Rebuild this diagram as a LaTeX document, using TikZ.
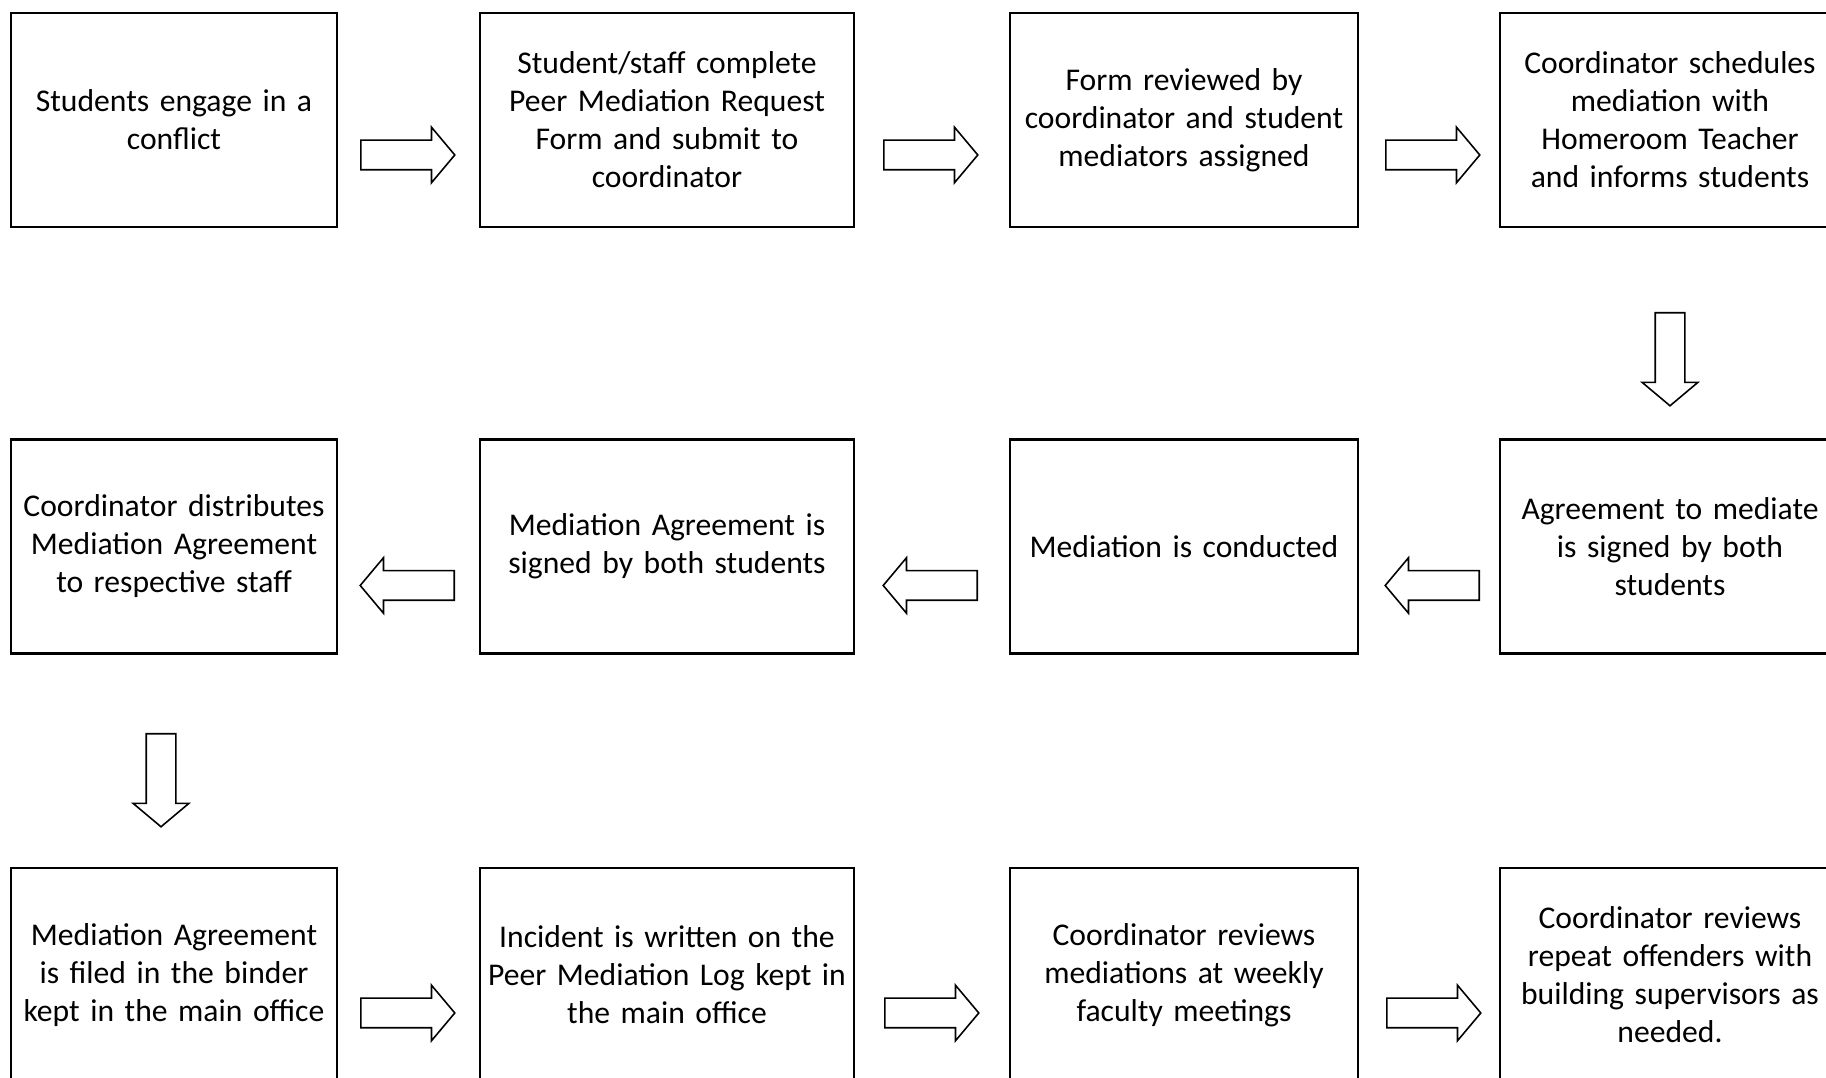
\documentclass[tikz,border=0pt]{standalone}
\usepackage{fontspec}
\setmainfont{Carlito}
\usetikzlibrary{shapes.arrows, positioning, calc}

\begin{document}
\begin{tikzpicture}[
    every node/.style={font=\fontsize{9}{10.8}\selectfont},
    box/.style={rectangle, draw=black, line width=0.6pt, minimum height=2.14cm, align=center, inner sep=0pt},
    flow/.style={single arrow, draw=black, line width=0.45pt, anchor=tail, minimum height=0.94cm, inner sep=0.14cm, single arrow head extend=0.13cm, single arrow tip angle=100}
  ]
    \useasboundingbox (0,0) rectangle (18.26,-10.78);
    % first row
    \node[box, minimum width=3.26cm, text width=3.2cm] (n1) at (1.74,-1.20) {Students engage in a\\conflict};
    \node[box, minimum width=3.74cm, text width=3.7cm] (n2) at (6.67,-1.20) {Student/staff complete\\Peer Mediation Request\\Form and submit to\\coordinator};
    \node[box, minimum width=3.48cm, text width=3.4cm] (n3) at (11.84,-1.20) {Form reviewed by\\coordinator and student\\mediators assigned};
    \node[box, minimum width=3.40cm, text width=3.3cm] (n4) at (16.70,-1.20) {Coordinator schedules\\mediation with\\Homeroom Teacher\\and informs students};
    % second row
    \node[box, minimum width=3.40cm, text width=3.3cm] (n5) at (16.70,-5.465) {Agreement to mediate\\is signed by both\\students};
    \node[box, minimum width=3.48cm, text width=3.4cm] (n6) at (11.84,-5.465) {Mediation is conducted};
    \node[box, minimum width=3.74cm, text width=3.7cm] (n7) at (6.67,-5.465) {Mediation Agreement is\\signed by both students};
    \node[box, minimum width=3.26cm, text width=3.2cm] (n8) at (1.74,-5.465) {Coordinator distributes\\Mediation Agreement\\to respective staff};
    % third row
    \node[box, minimum width=3.26cm, text width=3.2cm] (n9) at (1.74,-9.75) {Mediation Agreement\\is filed in the binder\\kept in the main office};
    \node[box, minimum width=3.74cm, text width=3.7cm] (n10) at (6.67,-9.75) {Incident is written on the\\Peer Mediation Log kept in\\the main office};
    \node[box, minimum width=3.48cm, text width=3.4cm] (n11) at (11.84,-9.75) {Coordinator reviews\\mediations at weekly\\faculty meetings};
    \node[box, minimum width=3.40cm, text width=3.3cm] (n12) at (16.70,-9.75) {Coordinator reviews\\repeat offenders with\\building supervisors as\\needed.};
    % block arrows (placed by their tails)
    \node[flow] (a1) at (3.60,-1.55) {};
    \node[flow] (a2) at (8.83,-1.55) {};
    \node[flow] (a3) at (13.85,-1.55) {};
    \node[flow, shape border rotate=270, minimum height=0.93cm] (a4) at (16.70,-3.12) {};
    \node[flow, shape border rotate=180] (a5) at (14.80,-5.855) {};
    \node[flow, shape border rotate=180] (a6) at (9.78,-5.855) {};
    \node[flow, shape border rotate=180] (a7) at (4.55,-5.855) {};
    \node[flow, shape border rotate=270, minimum height=0.93cm] (a8) at (1.61,-7.33) {};
    \node[flow] (a9) at (3.60,-10.13) {};
    \node[flow] (a10) at (8.84,-10.13) {};
    \node[flow] (a11) at (13.86,-10.13) {};
\end{tikzpicture}
\end{document}
